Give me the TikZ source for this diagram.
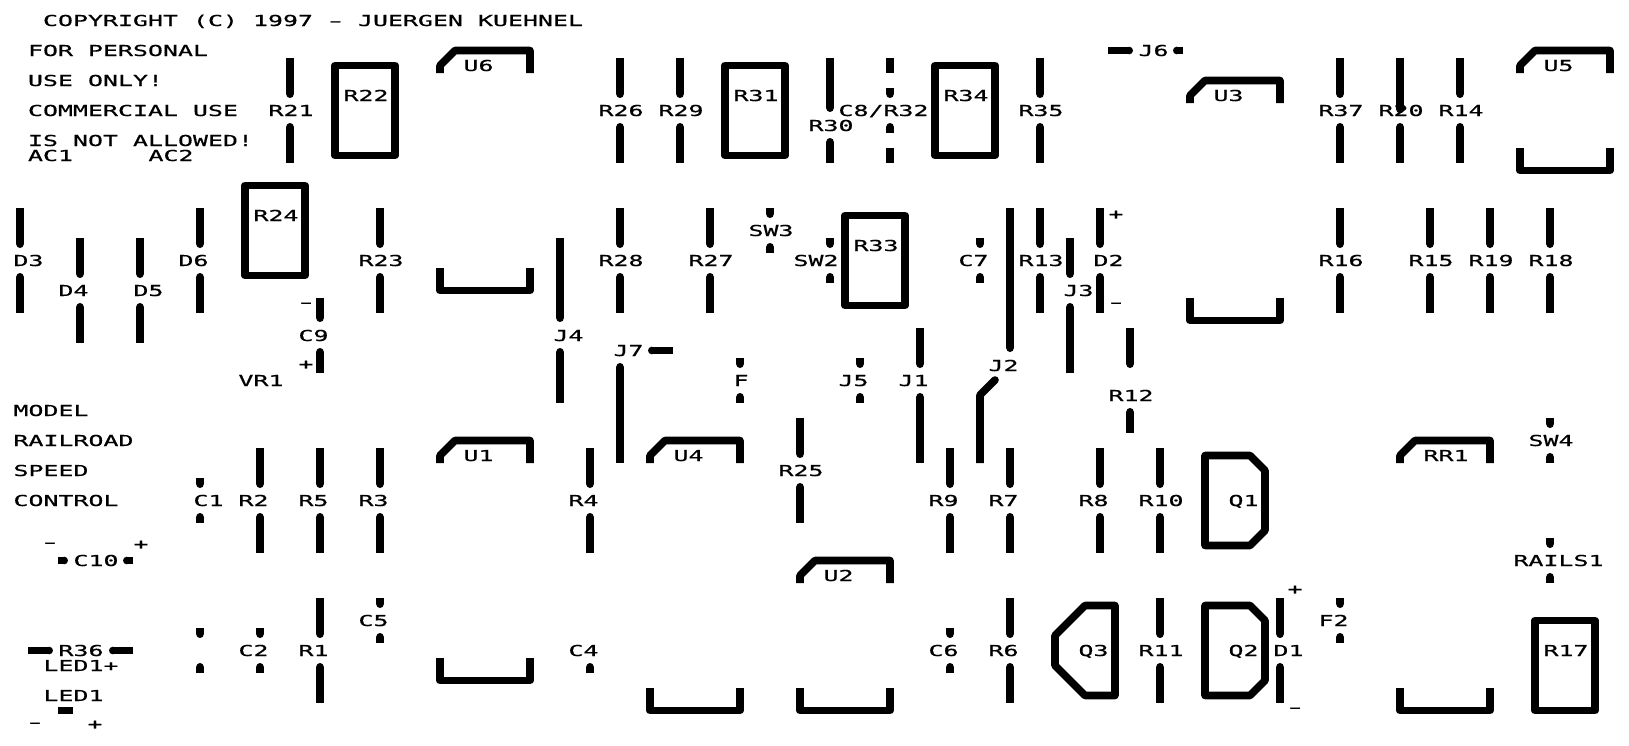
\documentclass[tikz,border=0pt]{standalone}
\usepackage{fontspec}
\newfontfamily\pcbfont[FakeStretch=1.65,FakeBold=0.6]{DejaVu Sans Mono}
\tikzset{
  lbl/.style={inner sep=0pt,outer sep=0pt,anchor=base west,font=\pcbfont\fontsize{15.1}{17}\selectfont},
  sgn/.style={inner sep=0pt,outer sep=0pt,anchor=center,font=\pcbfont\fontsize{15.1}{17}\selectfont},
  trace/.style={line width=7.6pt,line cap=butt,line join=round,draw=black}
}
% text label: name, glyph left, row centre, text
\newcommand\lab[4]{\node[lbl] (#1) at ({#2-1.5},{#3+5.5}) {#4};}
\newcommand\dsh{\makebox[15pt]{\scalebox{1.5}[1]{-}}}
% round end cap
\newcommand\capdot[2]{\fill (#1,#2) circle (3.8pt);}
% segment with a round end at y2 (vertical)
\newcommand\vrnd[3]{\draw[trace] (#1,#2) -- (#1,{#3}); \capdot{#1}{#3}}
% standard lead pair, x, centre
\newcommand\leads[2]{\vrnd{#1}{#2-52.5}{#2-16.3}\vrnd{#1}{#2+52.5}{#2+16.3}}
% short pad pair, x, centre
\newcommand\pads[2]{\vrnd{#1}{#2-22.5}{#2-16.3}\vrnd{#1}{#2+22.5}{#2+16.3}}
% IC outline
\newcommand\icbody[4]{%
  \draw[trace] (#1,{#3+22.5}) -- (#1,{#3+15}) -- ({#1+15},#3) -- (#2,#3) -- (#2,{#3+22.5});
  \draw[trace] (#1,{#4-22.5}) -- (#1,#4) -- (#2,#4) -- (#2,{#4-22.5});}
% rectangle part: centre x, centre y
\newcommand\rbox[2]{\draw[trace] ({#1-30},{#2-45}) rectangle ({#1+30},{#2+45});}
\begin{document}
\begin{tikzpicture}[x=1pt,y=-1pt]
\useasboundingbox (0,0) rectangle (1629,745);
% free text
\lab{copy}{44.5}{20.5}{COPYRIGHT (C) 1997 \dsh{} JUERGEN KUEHNEL}
\lab{t1}{29.5}{50.5}{FOR PERSONAL}
\lab{t2}{29.5}{80.5}{USE ONLY!}
\lab{t3}{29.5}{110.5}{COMMERCIAL USE}
\lab{t4}{29.5}{140.5}{IS NOT ALLOWED!}
\lab{AC1}{29.5}{155.5}{AC1}
\lab{AC2}{150}{155.5}{AC2}
\lab{t5}{15}{410.5}{MODEL}
\lab{t6}{15}{440.5}{RAILROAD}
\lab{t7}{15}{470.5}{SPEED}
\lab{t8}{15}{500.5}{CONTROL}
% top row leads
\foreach \x/\n in {290/R21,620/R26,680/R29,1040/R35,1340/R37,1460/R14}{
  \leads{\x}{110.5}
  \lab{\n}{\x-20}{110.5}{\n}}
\vrnd{1400}{58}{109.5}\vrnd{1400}{163}{126.8}
\lab{R20}{1380}{110.5}{R20}
\vrnd{830}{58}{108.2}\vrnd{830}{163}{141.8}
\lab{R30}{810}{125.5}{R30}
\draw[trace] (890,58) -- (890,73); \draw[trace] (890,148) -- (890,163);
\pads{890}{110.5}
\lab{C8R32}{840}{110.5}{C8/R32}
% second row leads
\foreach \x/\n in {200/D6,380/R23,620/R28,710/R27,1040/R13,1340/R16,1430/R15,1490/R19,1550/R18}{
  \leads{\x}{260.5}
  \lab{\n}{\x-20}{260.5}{\n}}
\leads{20}{260.5}\lab{D3}{15}{260.5}{D3}
\leads{80}{290.5}\lab{D4}{60}{290.5}{D4}
\leads{140}{290.5}\lab{D5}{135}{290.5}{D5}
\leads{1100}{260.5}\lab{D2}{1095}{260.5}{D2}
% R row 500
\foreach \x/\n in {260/R2,320/R5,380/R3,590/R4,950/R9,1010/R7,1100/R8,1160/R10}{
  \leads{\x}{500.5}
  \lab{\n}{\x-20}{500.5}{\n}}
% R row 650
\foreach \x/\n in {320/R1,1010/R6,1160/R11}{
  \leads{\x}{650.5}
  \lab{\n}{\x-20}{650.5}{\n}}
\leads{1280}{650.5}\lab{D1}{1275}{650.5}{D1}
\leads{800}{470.5}\lab{R25}{780}{470.5}{R25}
% small pads
\pads{200}{500.5}\lab{C1}{195}{500.5}{C1}
\pads{200}{650.5}
\pads{260}{650.5}\lab{C2}{240}{650.5}{C2}
\pads{380}{620.5}\lab{C5}{360}{620.5}{C5}
\vrnd{590}{673}{666.8}\lab{C4}{570}{650.5}{C4}
\pads{950}{650.5}\lab{C6}{930}{650.5}{C6}
\pads{770}{230.5}\lab{SW3}{750}{230.5}{SW3}
\pads{830}{260.5}\lab{SW2}{795}{260.5}{SW2}
\pads{980}{260.5}\lab{C7}{960}{260.5}{C7}
\pads{740}{380.5}\lab{F}{735}{380.5}{F}
\pads{860}{380.5}\lab{J5}{840}{380.5}{J5}
\pads{1550}{440.5}\lab{SW4}{1530}{440.5}{SW4}
\pads{1550}{560.5}\lab{RAILS1}{1515}{560.5}{RAILS1}
\pads{1340}{620.5}\lab{F2}{1320}{620.5}{F2}
% jumpers
\vrnd{320}{298}{318.2}\vrnd{320}{373}{351.8}\lab{C9}{300}{335.5}{C9}
\node[sgn] (c9m) at (306,305) {\dsh}; \node[sgn] (c9p) at (306,365) {+};
\vrnd{560}{238}{318.2}\vrnd{560}{403}{351.8}\lab{J4}{555}{335.5}{J4}
\vrnd{620}{463}{366.8}\lab{J7}{615}{350.5}{J7}
\draw[trace] (673,350.5) -- (651.8,350.5); \capdot{651.8}{350.5}
\vrnd{920}{328}{364.2}\vrnd{920}{463}{396.8}\lab{J1}{900}{380.5}{J1}
\vrnd{1010}{208}{348.2}
\draw[trace] (980,463) -- (980,395) -- (995,380); \capdot{995}{380}
\lab{J2}{990}{365.5}{J2}
\vrnd{1070}{238}{274.2}\vrnd{1070}{373}{306.8}\lab{J3}{1065}{290.5}{J3}
\vrnd{1130}{328}{364.2}\vrnd{1130}{433}{411.8}\lab{R12}{1110}{395.5}{R12}
\draw[trace] (1108,50.5) -- (1129.2,50.5); \capdot{1129.2}{50.5}
\draw[trace] (1183,50.5) -- (1176.8,50.5); \capdot{1176.8}{50.5}
\lab{J6}{1140}{50.5}{J6}
% horizontal pads
\draw[trace] (58,560.5) -- (64.2,560.5); \capdot{64.2}{560.5}
\draw[trace] (133,560.5) -- (126.8,560.5); \capdot{126.8}{560.5}
\lab{C10}{75}{560.5}{C10}
\node[sgn] (c10m) at (50,545) {\dsh}; \node[sgn] (c10p) at (141,545) {+};
\draw[trace] (28,650.5) -- (49.2,650.5); \capdot{49.2}{650.5}
\draw[trace] (133,650.5) -- (112.8,650.5); \capdot{112.8}{650.5}
\lab{R36}{60}{650.5}{R36}
\lab{LED1p}{45}{665.5}{LED1+}
\lab{LED1}{45}{695.5}{LED1}
\draw[trace] (58,710.5) -- (73,710.5);
\node[sgn] (ledm) at (35,725) {\dsh}; \node[sgn] (ledp) at (95,725) {+};
\node[sgn] (d1p) at (1295,590) {+}; \node[sgn] (d1m) at (1295,710) {\dsh};
\node[sgn] (d2p) at (1116,215) {+}; \node[sgn] (d2m) at (1116,305) {\dsh};
\lab{VR1}{240}{380.5}{VR1}
% rectangles
\foreach \x/\y/\n in {365/110.5/R22,275/230.5/R24,755/110.5/R31,965/110.5/R34,875/260.5/R33,1565/665.5/R17}{
  \rbox{\x}{\y}
  \lab{\n}{\x-20}{\y-15}{\n}}
% ICs
\icbody{440}{530}{50.5}{290.5}\lab{U6}{465}{65.5}{U6}
\icbody{1190}{1280}{80.5}{320.5}\lab{U3}{1215}{95.5}{U3}
\icbody{1520}{1610}{50.5}{170.5}\lab{U5}{1545}{65.5}{U5}
\icbody{440}{530}{440.5}{680.5}\lab{U1}{465}{455.5}{U1}
\icbody{650}{740}{440.5}{710.5}\lab{U4}{675}{455.5}{U4}
\icbody{800}{890}{560.5}{710.5}\lab{U2}{825}{575.5}{U2}
\icbody{1400}{1490}{440.5}{710.5}\lab{RR1}{1425}{455.5}{RR1}
% transistors
\draw[trace] (1205,455.5) -- (1250,455.5) -- (1265,470.5) -- (1265,530.5) -- (1250,545.5) -- (1205,545.5) -- cycle;
\lab{Q1}{1230}{500.5}{Q1}
\draw[trace] (1205,605.5) -- (1250,605.5) -- (1265,620.5) -- (1265,680.5) -- (1250,695.5) -- (1205,695.5) -- cycle;
\lab{Q2}{1230}{650.5}{Q2}
\draw[trace] (1115,605.5) -- (1085,605.5) -- (1055,635.5) -- (1055,665.5) -- (1085,695.5) -- (1115,695.5) -- cycle;
\lab{Q3}{1080}{650.5}{Q3}
\end{tikzpicture}
\end{document}
